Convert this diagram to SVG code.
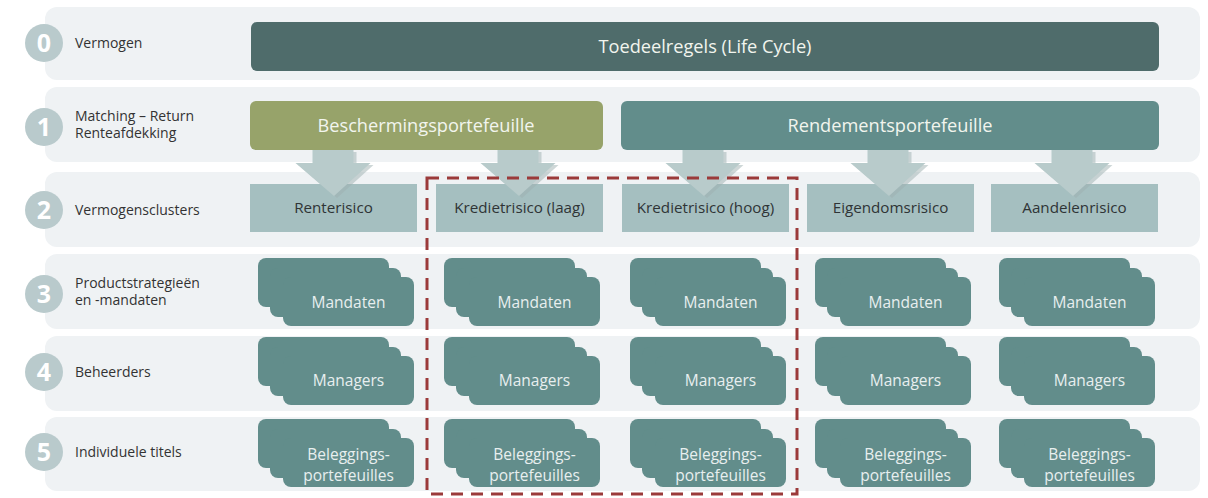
<svg xmlns="http://www.w3.org/2000/svg" width="1208" height="498" viewBox="0 0 1208 498">
<style>
.band{fill:#EFF2F4}
.num{fill:#B9CACC}
.numt{font-family:"Open Sans","Liberation Sans",sans-serif;font-weight:bold;font-size:25px;fill:#FFFFFF;text-anchor:middle}
.lbl{font-family:"Open Sans","Liberation Sans",sans-serif;font-size:14px;fill:#333333}
.bar{font-family:"Open Sans","Liberation Sans",sans-serif;font-size:18.2px;fill:#F2F5EE;text-anchor:middle}
.clu{fill:#A5BFC0}
.clut{font-family:"Open Sans","Liberation Sans",sans-serif;font-size:15.2px;fill:#2F3436;text-anchor:middle}
.stk{fill:#628D8B}
.stkt{font-family:"Open Sans","Liberation Sans",sans-serif;font-size:15.5px;fill:#E8EFEF;text-anchor:middle}
.arr{fill:#B8CBCB}
.arrs{fill:#9DB0B0;opacity:0.5}
</style>
<defs>
<g id="stack">
<rect class="stk" x="8" y="0" width="131" height="49" rx="8"/>
<rect class="stk" x="20" y="10" width="131" height="49" rx="8"/>
<rect class="stk" x="33" y="19" width="131" height="49" rx="8"/>
</g>
<path id="arrow" d="M-20.5,0 H20.5 V13 H37.5 L1,46 L-37.5,13 H-20.5 Z"/>
</defs>

<g id="bands">
<rect class="band" x="45" y="7" width="1155" height="73" rx="12"/>
<rect class="band" x="45" y="87" width="1155" height="75" rx="12"/>
<rect class="band" x="45" y="172" width="1155" height="75" rx="12"/>
<rect class="band" x="45" y="254" width="1155" height="75" rx="12"/>
<rect class="band" x="45" y="336" width="1155" height="75" rx="12"/>
<rect class="band" x="45" y="417" width="1155" height="74" rx="12"/>
</g>

<g id="row-labels">
<g id="level0"><circle class="num" cx="44" cy="43" r="19"/><text class="numt" x="44" y="52">0</text><text class="lbl" x="75" y="48">Vermogen</text></g>
<g id="level1"><circle class="num" cx="44" cy="127" r="19"/><text class="numt" x="44" y="136">1</text><text class="lbl" x="75" y="121">Matching – Return</text><text class="lbl" x="75" y="138">Renteafdekking</text></g>
<g id="level2"><circle class="num" cx="44" cy="210" r="19"/><text class="numt" x="44" y="219">2</text><text class="lbl" x="75" y="215">Vermogensclusters</text></g>
<g id="level3"><circle class="num" cx="44" cy="294" r="19"/><text class="numt" x="44" y="303">3</text><text class="lbl" x="75" y="288">Productstrategieën</text><text class="lbl" x="75" y="305">en -mandaten</text></g>
<g id="level4"><circle class="num" cx="44" cy="372" r="19"/><text class="numt" x="44" y="381">4</text><text class="lbl" x="75" y="377">Beheerders</text></g>
<g id="level5"><circle class="num" cx="44" cy="452" r="19"/><text class="numt" x="44" y="461">5</text><text class="lbl" x="75" y="457">Individuele titels</text></g>
</g>

<g id="toedeelregels"><rect x="251" y="22" width="908" height="49" rx="6" fill="#4F6C6B"/><text class="bar" x="705" y="53">Toedeelregels (Life Cycle)</text></g>
<g id="beschermingsportefeuille"><rect x="250" y="101" width="353" height="49" rx="6" fill="#97A36A"/><text class="bar" x="426" y="132">Beschermingsportefeuille</text></g>
<g id="rendementsportefeuille"><rect x="621" y="101" width="538" height="49" rx="6" fill="#628D8B"/><text class="bar" x="890" y="132">Rendementsportefeuille</text></g>

<g id="clusters">
<g id="renterisico"><rect class="clu" x="250" y="184" width="167" height="48"/><text class="clut" x="333.5" y="213">Renterisico</text></g>
<g id="krediet-laag"><rect class="clu" x="436" y="184" width="167" height="48"/><text class="clut" x="519.5" y="213">Kredietrisico (laag)</text></g>
<g id="krediet-hoog"><rect class="clu" x="622" y="184" width="167" height="48"/><text class="clut" x="705.5" y="213">Kredietrisico (hoog)</text></g>
<g id="eigendomsrisico"><rect class="clu" x="807" y="184" width="167" height="48"/><text class="clut" x="890.5" y="213">Eigendomsrisico</text></g>
<g id="aandelenrisico"><rect class="clu" x="991" y="184" width="167" height="48"/><text class="clut" x="1074.5" y="213">Aandelenrisico</text></g>
</g>

<g id="connectors">
<use href="#arrow" class="arrs" x="336" y="152"/><use href="#arrow" class="arr" x="333" y="150"/>
<use href="#arrow" class="arrs" x="521" y="152"/><use href="#arrow" class="arr" x="518" y="150"/>
<use href="#arrow" class="arrs" x="706" y="152"/><use href="#arrow" class="arr" x="703" y="150"/>
<use href="#arrow" class="arrs" x="891" y="152"/><use href="#arrow" class="arr" x="888" y="150"/>
<use href="#arrow" class="arrs" x="1075" y="152"/><use href="#arrow" class="arr" x="1072" y="150"/>
</g>

<g id="mandaten">
<g id="m1"><use href="#stack" x="250" y="258"/><text class="stkt" x="348.5" y="308">Mandaten</text></g>
<g id="m2"><use href="#stack" x="436" y="258"/><text class="stkt" x="534.5" y="308">Mandaten</text></g>
<g id="m3"><use href="#stack" x="622" y="258"/><text class="stkt" x="720.5" y="308">Mandaten</text></g>
<g id="m4"><use href="#stack" x="807" y="258"/><text class="stkt" x="905.5" y="308">Mandaten</text></g>
<g id="m5"><use href="#stack" x="991" y="258"/><text class="stkt" x="1089.5" y="308">Mandaten</text></g>
</g>
<g id="managers">
<g id="g1"><use href="#stack" x="250" y="337"/><text class="stkt" x="348.5" y="386">Managers</text></g>
<g id="g2"><use href="#stack" x="436" y="337"/><text class="stkt" x="534.5" y="386">Managers</text></g>
<g id="g3"><use href="#stack" x="622" y="337"/><text class="stkt" x="720.5" y="386">Managers</text></g>
<g id="g4"><use href="#stack" x="807" y="337"/><text class="stkt" x="905.5" y="386">Managers</text></g>
<g id="g5"><use href="#stack" x="991" y="337"/><text class="stkt" x="1089.5" y="386">Managers</text></g>
</g>
<g id="portefeuilles">
<g id="p1"><use href="#stack" x="250" y="419"/><text class="stkt" x="348.5" y="460">Beleggings-</text><text class="stkt" x="348.5" y="481">portefeuilles</text></g>
<g id="p2"><use href="#stack" x="436" y="419"/><text class="stkt" x="534.5" y="460">Beleggings-</text><text class="stkt" x="534.5" y="481">portefeuilles</text></g>
<g id="p3"><use href="#stack" x="622" y="419"/><text class="stkt" x="720.5" y="460">Beleggings-</text><text class="stkt" x="720.5" y="481">portefeuilles</text></g>
<g id="p4"><use href="#stack" x="807" y="419"/><text class="stkt" x="905.5" y="460">Beleggings-</text><text class="stkt" x="905.5" y="481">portefeuilles</text></g>
<g id="p5"><use href="#stack" x="991" y="419"/><text class="stkt" x="1089.5" y="460">Beleggings-</text><text class="stkt" x="1089.5" y="481">portefeuilles</text></g>
</g>

<g id="credit-highlight"><rect x="427" y="178" width="370" height="316" fill="none" stroke="#9B3A3A" stroke-width="3" stroke-dasharray="12 8"/></g>
</svg>
